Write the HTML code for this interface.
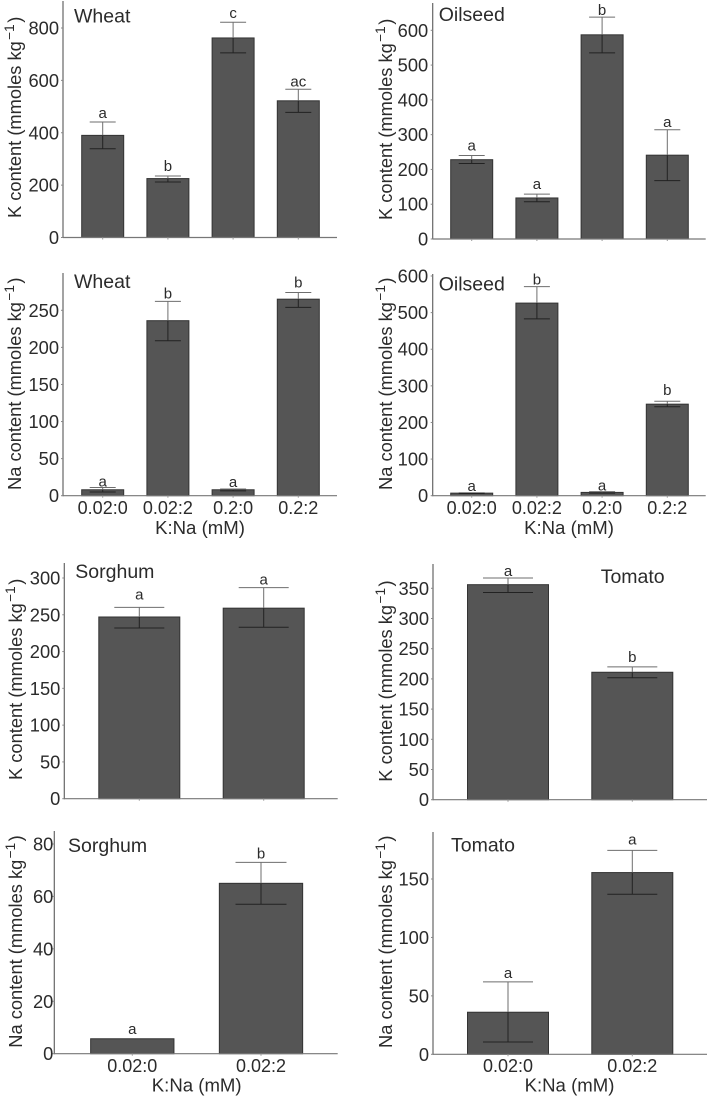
<!DOCTYPE html>
<html lang="en">
<head>
<meta charset="utf-8">
<title>K and Na content by crop</title>
<style>
html,body{margin:0;padding:0;background:#fff;width:708px;height:1098px;overflow:hidden}
svg{display:block;filter:blur(.35px)}
text{font-family:"Liberation Sans",Arial,sans-serif;fill:#2b2b2b}
</style>
</head>
<body>
<svg id="figure" xmlns="http://www.w3.org/2000/svg" width="708" height="1098" viewBox="0 0 708 1098"></svg>
<script>
const fourCategories = ["0.02:0", "0.02:2", "0.2:0", "0.2:2"];
const twoCategories = ["0.02:0", "0.02:2"];

const wheatKTicks = [0, 200, 400, 600, 800];
const wheatKValues = [390, 225, 762, 522];
const wheatKUpper = [441, 235, 822, 566];
const wheatKLower = [339, 212, 705, 478];
const wheatKLetters = ["a", "b", "c", "ac"];

const oilseedKTicks = [0, 100, 200, 300, 400, 500, 600];
const oilseedKValues = [228, 118, 587, 241];
const oilseedKUpper = [240, 129, 638, 314];
const oilseedKLower = [217, 107, 535, 168];
const oilseedKLetters = ["a", "a", "b", "a"];

const wheatNaTicks = [0, 50, 100, 150, 200, 250];
const wheatNaValues = [8, 236, 8, 265];
const wheatNaUpper = [11, 262, 9, 274];
const wheatNaLower = [5, 209, 6.5, 254];
const wheatNaLetters = ["a", "b", "a", "b"];

const oilseedNaTicks = [0, 100, 200, 300, 400, 500, 600];
const oilseedNaValues = [7, 526, 9, 250];
const oilseedNaUpper = [8, 571, 11, 258];
const oilseedNaLower = [6, 483, 7, 243];
const oilseedNaLetters = ["a", "b", "a", "b"];

const sorghumKTicks = [0, 50, 100, 150, 200, 250, 300];
const sorghumKValues = [247, 259];
const sorghumKUpper = [260, 287];
const sorghumKLower = [232, 233];
const sorghumKLetters = ["a", "a"];

const tomatoKTicks = [0, 50, 100, 150, 200, 250, 300, 350];
const tomatoKValues = [356, 211];
const tomatoKUpper = [367, 220];
const tomatoKLower = [343, 202];
const tomatoKLetters = ["a", "b"];

const sorghumNaTicks = [0, 20, 40, 60, 80];
const sorghumNaValues = [5.7, 65];
const sorghumNaUpper = [5.7, 73];
const sorghumNaLower = [5.7, 57];
const sorghumNaLetters = ["a", "b"];

const tomatoNaTicks = [0, 50, 100, 150];
const tomatoNaValues = [36, 155.5];
const tomatoNaUpper = [62, 174.5];
const tomatoNaLower = [10.5, 137];
const tomatoNaLetters = ["a", "a"];

const svg = document.getElementById("figure");
const NS = "http://www.w3.org/2000/svg";

function make(tag, attrs, parent, content) {
  const el = document.createElementNS(NS, tag);
  for (const k in attrs) el.setAttribute(k, attrs[k]);
  if (content !== undefined) el.textContent = content;
  parent.appendChild(el);
  return el;
}

function drawPanel(p) {
  const g = make("g", {}, svg);
  
  

  const topTick = p.ticks[p.ticks.length - 1];
  const y = v => p.base - v * (p.base - p.topPx) / topTick;
  const x = i => p.first + i * p.step;

  // bars
  p.values.forEach((v, i) => {
    const bar = make("rect", {x: x(i) - p.barW / 2, y: y(v), width: p.barW, height: p.base - y(v), fill: "#555555", stroke: "#333333", "stroke-width": 1}, g);
    
    
  });

  // error bars
  p.values.forEach((v, i) => {
    if (p.upper[i] === p.lower[i]) return;
    const eb = make("g", {fill: "none", "stroke-width": 1}, g);
    
    
    make("line", {x1: x(i), x2: x(i), y1: y(p.upper[i]), y2: y(v), stroke: "#6e6e6e"}, eb);
    make("line", {x1: x(i), x2: x(i), y1: y(v), y2: y(p.lower[i]), stroke: "#222222"}, eb);
    make("line", {x1: x(i) - p.capW / 2, x2: x(i) + p.capW / 2, y1: y(p.upper[i]), y2: y(p.upper[i]), stroke: "#6e6e6e"}, eb);
    make("line", {x1: x(i) - p.capW / 2, x2: x(i) + p.capW / 2, y1: y(p.lower[i]), y2: y(p.lower[i]), stroke: "#222222"}, eb);
  });

  // significance letters
  p.letters.forEach((s, i) => {
    const t = make("text", {x: x(i), y: y(p.upper[i]) - p.gaps[i], "text-anchor": "middle", "font-size": 15}, g, s);
    
    
  });

  // axes
  const yAxis = make("line", {x1: p.left, x2: p.left, y1: p.top, y2: p.base + .5, stroke: "#666666", "stroke-width": 1.2}, g);
  
  
  const xAxis = make("line", {x1: p.left, x2: p.right, y1: p.base, y2: p.base, stroke: "#777777", "stroke-width": 1.2}, g);
  
  

  // y ticks
  p.ticks.forEach(tv => {
    make("line", {x1: p.left - 2, x2: p.left, y1: y(tv), y2: y(tv), stroke: "#888888", "stroke-width": 1}, g);
    const t = make("text", {x: p.left - p.labelGap, y: y(tv) + 6.5, "text-anchor": "end", "font-size": 18.3}, g, String(tv));
    
    
  });

  // x ticks
  p.categories.forEach((c, i) => {
    make("line", {x1: x(i), x2: x(i), y1: p.base, y2: p.base + 2, stroke: "#999999", "stroke-width": 1}, g);
    if (p.tickY) {
      const t = make("text", {x: x(i), y: p.tickY, "text-anchor": "middle", "font-size": 18}, g, c);
      
      
    }
  });

  // x title
  if (p.xTitleY) {
    const t = make("text", {x: p.xTitleX, y: p.xTitleY, "text-anchor": "middle", "font-size": 18.6}, g, "K:Na (mM)");
    
    
  }

  // y title
  const yt = make("text", {transform: "translate(" + p.yTitleX + " " + p.yTitleStart + ") rotate(-90)", "font-size": 18.3}, g);
  
  
  make("tspan", {}, yt, p.ion + " content (mmoles kg");
  make("tspan", {dx: 1.5, dy: -7, "font-size": 13.5}, yt, "\u22121");
  make("tspan", {dx: 1.5, dy: 7}, yt, ")");

  // panel title
  const ttl = make("text", {x: p.titleX, y: p.titleY, "font-size": 19.5}, g, p.title);
  
  
}

const fourBars = {first: 102.7, step: 65.2, barW: 42, capW: 26};
const fourBarsRight = {first: 471.7, step: 65.2, barW: 42, capW: 26};

drawPanel(Object.assign({}, fourBars, {
  id: "wheat-k", title: "Wheat", ion: "K", categories: fourCategories,
  ticks: wheatKTicks, values: wheatKValues, upper: wheatKUpper, lower: wheatKLower, letters: wheatKLetters,
  gaps: [4, 5, 4, 3], left: 63, right: 337, top: 1, base: 237.5, topPx: 28, labelGap: 4,
  yTitleX: 21, yTitleStart: 218, titleX: 74, titleY: 22.7
}));
drawPanel(Object.assign({}, fourBarsRight, {
  id: "oilseed-k", title: "Oilseed", ion: "K", categories: fourCategories,
  ticks: oilseedKTicks, values: oilseedKValues, upper: oilseedKUpper, lower: oilseedKLower, letters: oilseedKLetters,
  gaps: [5, 5, 2, 3], left: 432.7, right: 705.7, top: 3, base: 239, topPx: 30.3, labelGap: 4.5,
  yTitleX: 392, yTitleStart: 220, titleX: 438.7, titleY: 21
}));
drawPanel(Object.assign({}, fourBars, {
  id: "wheat-na", title: "Wheat", ion: "Na", categories: fourCategories,
  ticks: wheatNaTicks, values: wheatNaValues, upper: wheatNaUpper, lower: wheatNaLower, letters: wheatNaLetters,
  gaps: [1, 3, 2, 5], left: 63, right: 337, top: 273, base: 495.7, topPx: 310.3, labelGap: 4,
  yTitleX: 21, yTitleStart: 490, titleX: 74, titleY: 288,
  tickY: 514, xTitleX: 200, xTitleY: 534
}));
drawPanel(Object.assign({}, fourBarsRight, {
  id: "oilseed-na", title: "Oilseed", ion: "Na", categories: fourCategories,
  ticks: oilseedNaTicks, values: oilseedNaValues, upper: oilseedNaUpper, lower: oilseedNaLower, letters: oilseedNaLetters,
  gaps: [2, 2, 1, 6], left: 432.7, right: 705.7, top: 274, base: 495.7, topPx: 276, labelGap: 4.5,
  yTitleX: 392, yTitleStart: 490, titleX: 438.7, titleY: 290.7,
  tickY: 514, xTitleX: 569, xTitleY: 534
}));
drawPanel({
  id: "sorghum-k", title: "Sorghum", ion: "K", categories: twoCategories,
  ticks: sorghumKTicks, values: sorghumKValues, upper: sorghumKUpper, lower: sorghumKLower, letters: sorghumKLetters,
  gaps: [8, 3], left: 64.3, right: 337.7, top: 563, base: 798.7, topPx: 578, labelGap: 4,
  first: 139.3, step: 124.4, barW: 81, capW: 50,
  yTitleX: 22, yTitleStart: 780, titleX: 75.3, titleY: 578
});
drawPanel({
  id: "tomato-k", title: "Tomato", ion: "K", categories: twoCategories,
  ticks: tomatoKTicks, values: tomatoKValues, upper: tomatoKUpper, lower: tomatoKLower, letters: tomatoKLetters,
  gaps: [2, 5], left: 433, right: 707, top: 564, base: 799.7, topPx: 588.3, labelGap: 4,
  first: 508, step: 124.3, barW: 81, capW: 50,
  yTitleX: 392, yTitleStart: 781.7, titleX: 600.7, titleY: 583
});
drawPanel({
  id: "sorghum-na", title: "Sorghum", ion: "Na", categories: twoCategories,
  ticks: sorghumNaTicks, values: sorghumNaValues, upper: sorghumNaUpper, lower: sorghumNaLower, letters: sorghumNaLetters,
  gaps: [5, 4], left: 54.3, right: 337.7, top: 831, base: 1053.7, topPx: 844, labelGap: 1,
  first: 132.3, step: 128.7, barW: 83.3, capW: 51,
  yTitleX: 22, yTitleStart: 1047.7, titleX: 68, titleY: 852,
  tickY: 1072, xTitleX: 196.7, xTitleY: 1091.7
});
drawPanel({
  id: "tomato-na", title: "Tomato", ion: "Na", categories: twoCategories,
  ticks: tomatoNaTicks, values: tomatoNaValues, upper: tomatoNaUpper, lower: tomatoNaLower, letters: tomatoNaLetters,
  gaps: [4, 6], left: 433, right: 707, top: 832, base: 1054.3, topPx: 879, labelGap: 4,
  first: 508, step: 124.3, barW: 81, capW: 50,
  yTitleX: 392, yTitleStart: 1048, titleX: 451, titleY: 851.7,
  tickY: 1072, xTitleX: 569.5, xTitleY: 1091.5
});
</script>
</body>
</html>
